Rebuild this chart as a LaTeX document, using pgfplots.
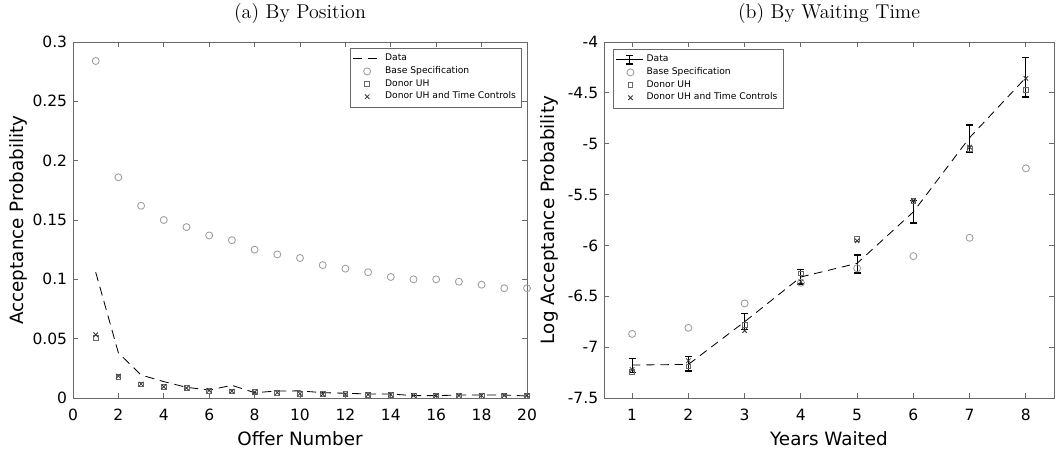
\documentclass[border=0pt]{standalone}
\usepackage{fontspec}
\setsansfont{DejaVu Sans}
\usepackage{pgfplots}
\pgfplotsset{compat=1.18}

\definecolor{framegray}{RGB}{105,105,105}
\definecolor{basegray}{RGB}{155,155,155}
\definecolor{uhgray}{RGB}{105,105,105}
\definecolor{tcgray}{RGB}{55,55,55}

\pgfplotsset{
  panel/.style={
    scale only axis,
    height=213.6pt,
    axis line style={framegray, line width=0.5pt},
    major tick style={framegray, line width=0.5pt},
    major tick length=3pt,
    tick align=inside,
    ticklabel style={font=\sffamily\fontsize{9.3}{10}\selectfont, text=black},
    xticklabel style={yshift=-3pt},
    /pgf/number format/assume math mode=true,
    label style={font=\sffamily\fontsize{11}{13}\selectfont},
    title style={font=\rmfamily\fontsize{12}{14}\selectfont, yshift=1.8pt},
    legend style={font=\sffamily\fontsize{5.5}{6.5}\selectfont,
      draw=framegray, line width=0.4pt, inner sep=1.5pt, row sep=-2pt},
    legend cell align=left,
  },
  basemk/.style={only marks, mark=o, mark size=2.1pt, color=basegray, mark options={line width=0.5pt}},
  uhmk/.style={only marks, mark=square, mark size=1.45pt, color=uhgray, mark options={line width=0.5pt}},
  tcmk/.style={only marks, mark=x, mark size=1.9pt, color=tcgray, mark options={line width=0.5pt}},
}

\begin{document}
\begin{tikzpicture}
\useasboundingbox (-43.8pt,-32.4pt) rectangle (592.8pt,238.8pt);

% (a) by position
\begin{axis}[
  panel,
  at={(0pt,0pt)}, anchor=south west,
  width=272.4pt,
  title={(a) By Position},
  xlabel={Offer Number},
  ylabel={Acceptance Probability},
  ylabel shift=-3.6pt,
  xmin=0, xmax=20, ymin=0, ymax=0.3,
  xtick={0,2,4,6,8,10,12,14,16,18,20},
  ytick={0,0.05,0.1,0.15,0.2,0.25,0.3},
  scaled y ticks=false,
  yticklabel style={/pgf/number format/fixed, /pgf/number format/precision=2},
  legend style={at={(1,1)}, anchor=north east, xshift=-3pt, yshift=-3.6pt},
]
\addplot[black, line width=0.5pt, dash pattern=on 5.5pt off 3.5pt, mark=none] coordinates {
  (1,0.106) (2,0.038) (3,0.0194) (4,0.0138) (5,0.009) (6,0.0067) (7,0.0107)
  (8,0.0045) (9,0.0059) (10,0.006) (11,0.0045) (12,0.004) (13,0.0034) (14,0.0034)
  (15,0.002) (16,0.002) (17,0.0025) (18,0.0025) (19,0.0025) (20,0.0017)
};
\addlegendentry{Data}
\addplot[basemk] coordinates {
  (1,0.284) (2,0.186) (3,0.162) (4,0.150) (5,0.144) (6,0.137) (7,0.133)
  (8,0.125) (9,0.121) (10,0.118) (11,0.112) (12,0.109) (13,0.106) (14,0.102)
  (15,0.100) (16,0.100) (17,0.098) (18,0.0955) (19,0.0925) (20,0.0925)
};
\addlegendentry{Base Specification}
\addplot[uhmk] coordinates {
  (1,0.0503) (2,0.018) (3,0.0115) (4,0.0093) (5,0.0082) (6,0.0062) (7,0.0056)
  (8,0.0048) (9,0.0045) (10,0.0036) (11,0.0031) (12,0.0031) (13,0.0028) (14,0.0028)
  (15,0.002) (16,0.002) (17,0.002) (18,0.002) (19,0.002) (20,0.002)
};
\addlegendentry{Donor UH}
\addplot[tcmk] coordinates {
  (1,0.0533) (2,0.0185) (3,0.0118) (4,0.0095) (5,0.0084) (6,0.0064) (7,0.0058)
  (8,0.0050) (9,0.0046) (10,0.0037) (11,0.0032) (12,0.0032) (13,0.0029) (14,0.0029)
  (15,0.0021) (16,0.0021) (17,0.0021) (18,0.0021) (19,0.0021) (20,0.0021)
};
\addlegendentry{Donor UH and Time Controls}
\end{axis}

% (b) by waiting time
\begin{axis}[
  panel,
  at={(318.6pt,0pt)}, anchor=south west,
  width=270pt,
  title={(b) By Waiting Time},
  xlabel={Years Waited},
  ylabel={Log Acceptance Probability},
  ylabel shift=-1.2pt,
  xmin=0.5, xmax=8.5, ymin=-7.5, ymax=-4,
  xtick={1,2,3,4,5,6,7,8},
  ytick={-7.5,-7,-6.5,-6,-5.5,-5,-4.5,-4},
  legend style={at={(0,1)}, anchor=north west, xshift=5.4pt, yshift=-4.2pt},
]
\addplot[black, line width=0.5pt, dash pattern=on 5pt off 3.5pt, mark=none,
  legend image code/.code={
    \draw[solid, black, line width=0.5pt] (0pt,0pt) -- (16pt,0pt);
    \draw[solid, black, line width=0.5pt] (8pt,-2.6pt) -- (8pt,2.6pt);
    \draw[solid, black, line width=0.8pt] (6pt,-2.6pt) -- (10pt,-2.6pt) (6pt,2.6pt) -- (10pt,2.6pt);
  },
  error bars/.cd, y dir=both, y explicit,
  error bar style={solid, black, line width=0.5pt},
  error mark options={rotate=90, mark size=2.1pt, black, solid, line width=0.9pt},
] coordinates {
  (1,-7.176) += (0,0.064) -= (0,0.073)
  (2,-7.170) += (0,0.078) -= (0,0.065)
  (3,-6.750) += (0,0.083) -= (0,0.075)
  (4,-6.310) += (0,0.075) -= (0,0.070)
  (5,-6.176) += (0,0.081) -= (0,0.094)
  (6,-5.670) += (0,0.110) -= (0,0.110)
  (7,-4.940) += (0,0.126) -= (0,0.142)
  (8,-4.350) += (0,0.200) -= (0,0.190)
};
\addlegendentry{Data}
\addplot[basemk] coordinates {
  (1,-6.87) (2,-6.81) (3,-6.57) (4,-6.367) (5,-6.225) (6,-6.105) (7,-5.925) (8,-5.242)
};
\addlegendentry{Base Specification}
\addplot[uhmk] coordinates {
  (1,-7.24) (2,-7.19) (3,-6.78) (4,-6.275) (5,-5.94) (6,-5.563) (7,-5.049) (8,-4.471)
};
\addlegendentry{Donor UH}
\addplot[tcmk] coordinates {
  (1,-7.22) (2,-7.134) (3,-6.837) (4,-6.357) (5,-5.955) (6,-5.56) (7,-5.033) (8,-4.357)
};
\addlegendentry{Donor UH and Time Controls}
\end{axis}
\end{tikzpicture}
\end{document}
